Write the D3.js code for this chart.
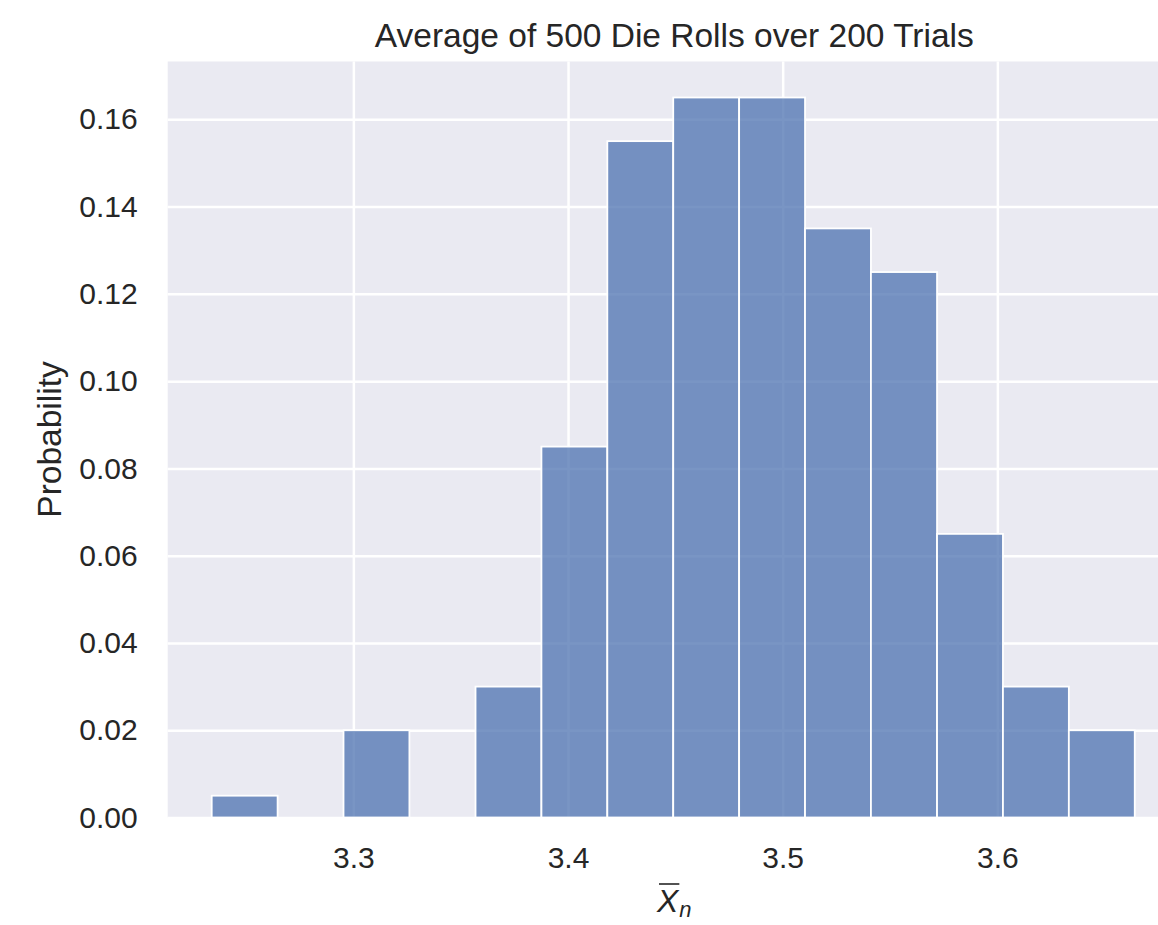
<!DOCTYPE html>
<html>
<head>
<meta charset="utf-8">
<script src="https://cdn.jsdelivr.net/npm/d3@7"></script>
<style>
  body { margin: 0; background: #ffffff; }
  svg { display: block; }
  text { font-family: "Liberation Sans", Arial, Helvetica, sans-serif; fill: #262626; }
</style>
</head>
<body>
<svg id="chart" width="1158" height="925"></svg>
<script>
// Histogram of sample means: 14 equal-width bins
const binEdges = [3.234, 3.2647, 3.2954, 3.3261, 3.3569, 3.3876, 3.4183, 3.449,
                  3.4797, 3.5104, 3.5411, 3.5719, 3.6026, 3.6333, 3.664];
const probabilities = [0.005, 0, 0.02, 0, 0.03, 0.085, 0.155, 0.165, 0.165,
                       0.135, 0.125, 0.065, 0.03, 0.02];
const xTicks = [3.3, 3.4, 3.5, 3.6];
const yTicks = [0, 0.02, 0.04, 0.06, 0.08, 0.10, 0.12, 0.14, 0.16];
const xDomain = [3.2135, 3.6855];
const yDomain = [0, 0.17325];
const titleText = "Average of 500 Die Rolls over 200 Trials";
const yLabelText = "Probability";

const bins = probabilities.map((p, i) => ({ x0: binEdges[i], x1: binEdges[i + 1], p }));

const svg = d3.select("#chart");
const plot = { left: 167.7, right: 1180.9, top: 61.5, bottom: 817.5 };

const x = d3.scaleLinear().domain(xDomain).range([plot.left, plot.right]);
const y = d3.scaleLinear().domain(yDomain).range([plot.bottom, plot.top]);

// axes background
svg.append("rect")
  .attr("x", plot.left).attr("y", plot.top)
  .attr("width", plot.right - plot.left).attr("height", plot.bottom - plot.top)
  .attr("fill", "#eaeaf2");

// y grid + tick labels
const yAxis = svg.append("g")
  .attr("transform", `translate(${plot.left},0)`)
  .call(d3.axisLeft(y).tickValues(yTicks).tickFormat(d3.format(".2f"))
        .tickSizeInner(-(plot.right - plot.left)).tickSizeOuter(0).tickPadding(30));
yAxis.select(".domain").remove();
yAxis.selectAll(".tick line").attr("stroke", "#ffffff").attr("stroke-width", 2.5);
yAxis.selectAll(".tick text")
  .attr("font-size", 30).attr("fill", "#262626")
  .attr("font-family", "'Liberation Sans', Arial, Helvetica, sans-serif");

// x grid + tick labels
const xAxis = svg.append("g")
  .attr("transform", `translate(0,${plot.bottom})`)
  .call(d3.axisBottom(x).tickValues(xTicks).tickFormat(d3.format(".1f"))
        .tickSizeInner(-(plot.bottom - plot.top)).tickSizeOuter(0).tickPadding(29));
xAxis.select(".domain").remove();
xAxis.selectAll(".tick line").attr("stroke", "#ffffff").attr("stroke-width", 2.5);
xAxis.selectAll(".tick text")
  .attr("font-size", 30).attr("fill", "#262626")
  .attr("font-family", "'Liberation Sans', Arial, Helvetica, sans-serif");

// bars
svg.append("g")
  .selectAll("rect")
  .data(bins.filter(d => d.p > 0))
  .join("rect")
  .attr("x", d => x(d.x0))
  .attr("y", d => y(d.p))
  .attr("width", d => x(d.x1) - x(d.x0))
  .attr("height", d => y(0) - y(d.p))
  .attr("fill", "#4c72b0")
  .attr("fill-opacity", 0.75)
  .attr("stroke", "#ffffff")
  .attr("stroke-width", 1.8);

const cx = (plot.left + plot.right) / 2;

// title
svg.append("text")
  .attr("x", cx).attr("y", 46.5)
  .attr("text-anchor", "middle")
  .attr("font-size", 33.5)
  .text(titleText);

// y label
svg.append("text")
  .attr("transform", `translate(61,${(plot.top + plot.bottom) / 2}) rotate(-90)`)
  .attr("text-anchor", "middle")
  .attr("font-size", 33.5)
  .text(yLabelText);

// x label: italic X with an overbar and subscript n
const xl = svg.append("g");
const xMain = xl.append("text")
  .attr("x", 0).attr("y", 912)
  .attr("font-family", "'DejaVu Sans', sans-serif")
  .attr("font-style", "italic")
  .attr("font-size", 32)
  .text("X");
const wX = xMain.node().getComputedTextLength();
const xSub = xl.append("text")
  .attr("x", wX + 1).attr("y", 917)
  .attr("font-family", "'DejaVu Sans', sans-serif")
  .attr("font-style", "italic")
  .attr("font-size", 22)
  .text("n");
const wN = xSub.node().getComputedTextLength();
xl.append("line")
  .attr("x1", 2).attr("x2", wX + 1)
  .attr("y1", 884).attr("y2", 884)
  .attr("stroke", "#262626").attr("stroke-width", 1.6);
xl.attr("transform", `translate(${cx - (wX + 1 + wN) / 2},0)`);
</script>
</body>
</html>
